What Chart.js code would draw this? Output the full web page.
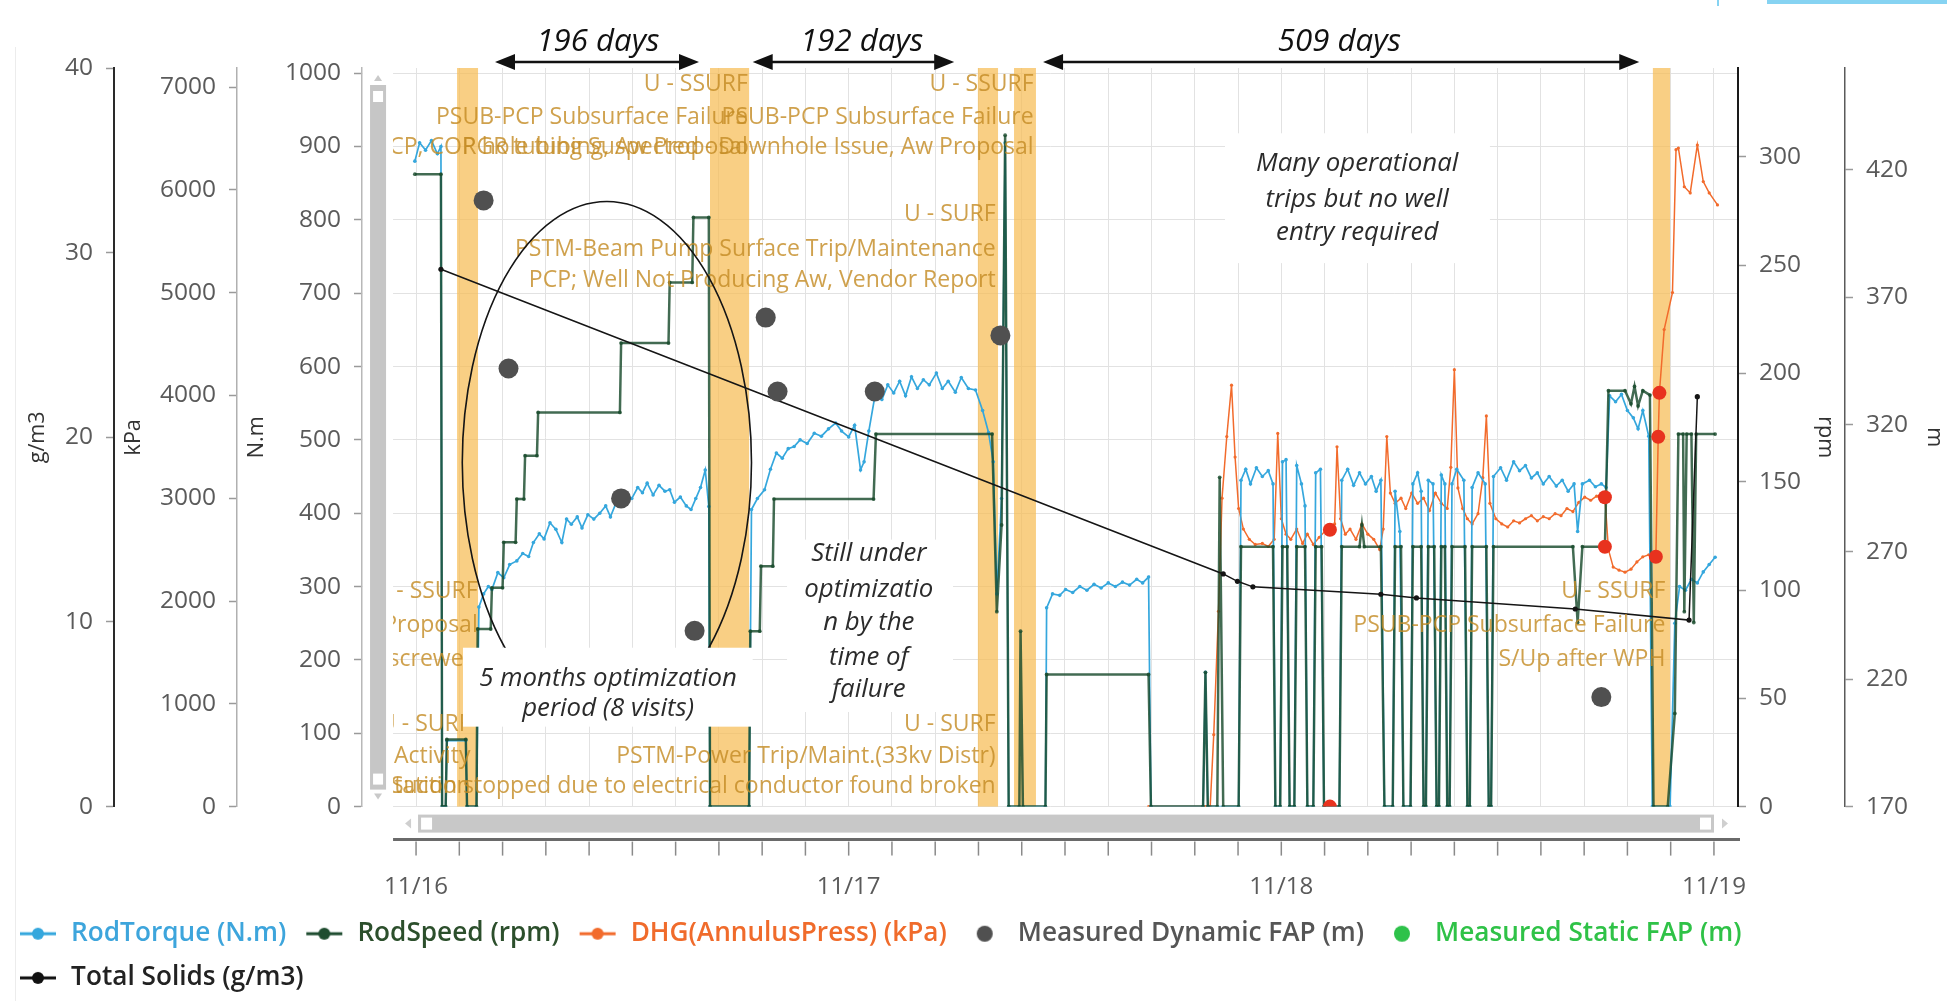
<!DOCTYPE html>
<html>
<head>
<meta charset="utf-8">
<title>Well history – rod pump</title>
<script src="https://cdn.jsdelivr.net/npm/chart.js@4.4.0/dist/chart.umd.min.js"></script>
<style>
  html, body { margin: 0; padding: 0; background: #fff; }
  #wrap { position: relative; width: 1947px; height: 1001px; }
</style>
</head>
<body>
<div id="wrap"><canvas id="chart"></canvas></div>
<script>
// =========================================================
// DATA  (x values are days counted from 1 Nov 2016)
// =========================================================
const tickLabels = ["11/16", "11/17", "11/18", "11/19"];
const nmTickValues = [0, 100, 200, 300, 400, 500, 600, 700, 800, 900, 1000];
const kpaTickValues = [0, 1000, 2000, 3000, 4000, 5000, 6000, 7000];
const solidsTickValues = [0, 10, 20, 30, 40];
const rpmTickValues = [0, 50, 100, 150, 200, 250, 300];
const mTickValues = [170, 220, 270, 320, 370, 420];

// RodTorque (N.m)
const rodTorquePoints = [
  [-1, 880], [3, 905], [8, 895], [13, 908], [18, 890], [21, 900], [22, 0], [25, 0], [26, 90], [42, 90], [43, 0], [51, 0],
  [53, 272], [57, 290], [61, 300], [64, 296], [69, 319], [74, 312], [79, 330], [85, 335], [90, 345], [95, 341], [99, 360],
  [104, 372], [108, 365], [113, 387], [118, 378], [123, 360], [127, 392], [131, 385], [136, 395], [140, 380], [145, 398],
  [150, 392], [155, 400], [160, 410], [164, 395], [169, 415], [173, 412], [178, 425], [182, 420], [187, 435], [191, 428],
  [195, 441], [200, 425], [205, 438], [210, 430], [214, 432], [218, 415], [223, 422], [228, 410], [232, 405], [236, 420],
  [240, 435], [244, 459], [247, 409], [248, 0],
  [281, 0], [283, 405], [288, 420], [294, 432], [299, 460], [304, 482], [309, 475], [314, 488], [319, 491], [324, 500],
  [330, 495], [336, 509], [342, 505], [348, 515], [354, 523], [359, 512], [365, 504], [370, 520], [375, 459], [378, 470],
  [382, 512], [388, 568], [393, 555], [398, 575], [403, 564], [408, 580], [413, 560], [418, 586], [423, 570], [428, 582],
  [433, 575], [439, 591], [444, 570], [449, 580], [455, 565], [460, 585], [466, 570], [472, 568], [478, 540], [483, 510],
  [487, 470], [490, 290], [494, 420], [497, 905], [500, 0],
  [531, 0], [532, 271], [537, 290], [543, 288], [548, 296], [554, 292], [560, 300], [566, 295], [572, 303], [578, 298],
  [584, 305], [590, 300], [596, 306], [602, 302], [608, 310], [613, 305], [618, 313], [620, 0],
  [664, 0], [666, 183], [668, 0], [694, 0], [696, 445], [700, 460], [704, 440], [709, 462], [714, 450], [719, 458],
  [723, 440], [725, 0], [729, 0], [731, 470], [734, 473], [737, 0], [741, 0], [743, 465], [747, 440], [750, 410], [752, 0],
  [757, 0], [759, 455], [763, 460], [766, 0], [779, 0], [781, 445], [786, 460], [791, 438], [796, 455], [801, 440],
  [806, 450], [810, 430], [814, 445], [817, 0], [824, 0], [826, 430], [830, 375], [833, 0], [839, 0], [841, 440],
  [845, 455], [848, 430], [850, 0], [852, 0], [854, 445], [858, 440], [861, 0], [863, 0], [865, 452], [868, 440], [870, 0],
  [872, 0], [874, 440], [878, 460], [884, 445], [887, 0], [889, 0], [891, 435], [896, 455], [902, 440], [905, 0], [907, 0],
  [909, 450], [915, 462], [920, 445], [926, 470], [931, 458], [936, 465], [941, 448], [946, 455], [951, 440], [956, 450],
  [962, 437], [967, 445], [972, 430], [977, 440], [980, 375], [984, 440], [990, 445], [995, 436], [1000, 440], [1004, 435],
  [1007, 560], [1012, 552], [1017, 562], [1022, 540], [1027, 530], [1031, 515], [1035, 540], [1040, 505], [1043, 0],
  [1058, 0], [1062, 250], [1066, 300], [1071, 295], [1076, 310], [1081, 305], [1086, 320], [1091, 330], [1096, 340]
];

// RodSpeed (rpm)
const rodSpeedPoints = [
  [-1, 292], [21, 292], [22, 0], [25, 0], [26, 31], [42, 31], [43, 0], [51, 0], [52, 82], [63, 82], [64, 101], [73, 101],
  [74, 122], [84, 122], [85, 142], [91, 142], [92, 162], [102, 162], [103, 182], [172, 182], [173, 214], [213, 214],
  [214, 242], [233, 242], [234, 272], [247, 272], [248, 0], [281, 0], [282, 81], [290, 81], [291, 111], [301, 111],
  [302, 142], [386, 142], [388, 172], [486, 172], [490, 90], [494, 130], [497, 310], [500, 0], [509, 0], [510, 81],
  [512, 0], [531, 0], [532, 61], [618, 61], [620, 0], [664, 0], [666, 62], [668, 0], [676, 0], [678, 152], [681, 0],
  [694, 0], [696, 120], [723, 120], [725, 0], [729, 0], [731, 120], [735, 120], [737, 0], [741, 0], [743, 120], [750, 120],
  [752, 0], [757, 0], [759, 120], [764, 120], [766, 0], [779, 0], [781, 120], [796, 120], [798, 130], [800, 120],
  [814, 120], [817, 0], [824, 0], [826, 120], [831, 120], [833, 0], [839, 0], [841, 120], [848, 120], [850, 0], [852, 0],
  [854, 120], [859, 120], [861, 0], [863, 0], [865, 120], [868, 120], [870, 0], [872, 0], [874, 120], [885, 120], [887, 0],
  [889, 0], [891, 120], [903, 120], [905, 0], [907, 0], [909, 120], [976, 120], [980, 85], [984, 120], [1003, 120],
  [1006, 192], [1020, 192], [1025, 186], [1028, 194], [1031, 185], [1035, 192], [1041, 190], [1044, 0], [1056, 0],
  [1062, 43], [1065, 172], [1069, 172], [1070, 90], [1072, 172], [1076, 172], [1078, 85], [1080, 172], [1096, 172]
];

// DHG (AnnulusPress) (kPa)
const annulusPressPoints = [
  [618, 0], [666, 0], [670, 0], [673, 700], [677, 1900], [680, 3000], [684, 3600], [688, 4100], [691, 3400], [694, 2900],
  [698, 2700], [703, 2600], [708, 2550], [714, 2560], [719, 2530], [724, 2600], [727, 3630], [730, 2800], [734, 2650],
  [738, 2600], [743, 2700], [748, 2560], [752, 2650], [757, 2550], [762, 2620], [767, 2680], [771, 2693], [775, 2750],
  [777, 3500], [780, 2800], [784, 2650], [788, 2700], [793, 2600], [798, 2750], [803, 2650], [808, 2600], [813, 2500],
  [816, 2700], [819, 3600], [822, 3050], [826, 2950], [831, 3000], [835, 2900], [840, 3050], [845, 2950], [850, 3000],
  [855, 2880], [860, 3050], [865, 2950], [870, 2900], [873, 3300], [876, 4250], [879, 3100], [883, 2900], [887, 2800],
  [891, 2750], [896, 2850], [900, 3200], [903, 3800], [906, 2950], [911, 2800], [916, 2750], [921, 2720], [926, 2780],
  [931, 2760], [936, 2800], [941, 2830], [946, 2780], [951, 2820], [956, 2800], [961, 2850], [966, 2830], [971, 2900],
  [976, 2870], [981, 2960], [986, 3010], [991, 2980], [996, 3020], [1003, 3010], [1006, 2500], [1010, 2330], [1015, 2300],
  [1020, 2280], [1025, 2310], [1030, 2380], [1035, 2430], [1040, 2450], [1046, 2430], [1048, 3597], [1049, 4025],
  [1053, 4640], [1060, 5000], [1063, 6390], [1065, 6407], [1070, 6030], [1075, 5970], [1081, 6436], [1086, 6080],
  [1091, 5970], [1098, 5853]
];

// Measured Dynamic FAP (m)
const dynamicFapPoints = [[57, 408], [78, 342], [173, 291], [235, 239], [295, 362], [305, 333], [387, 333], [493, 355], [1000, 213]];
// Measured Static FAP (m) – no readings in this window
const staticFapPoints = [];
// Total Solids (g/m3)
const totalSolidsPoints = [[21, 29.1], [681, 12.6], [693, 12.2], [706, 11.9], [814, 11.5], [844, 11.3], [978, 10.7], [1074, 10.1], [1081, 22.2]];

// highlighted (flagged) readings
const flaggedPressPoints = [[771, 2693], [1003, 3010], [1046, 2430], [1048, 3597], [1049, 4025]];
const flaggedSpeedPoints = [[771, 0], [1003, 120]];

// failure / well-entry periods [start day, end day]
const failureBands = [[34.6, 52.3], [248, 281], [474, 491], [504.5, 523], [1043.5, 1058]];

// =========================================================
// ANNOTATIONS (anchored in days and N.m values)
// =========================================================
const eventComments = [
  { day: 280, lines: [["U - SSURF", 984], ["PSUB-PCP Subsurface Failure", 939], ["PCP, COP hole tubing, Aw Proposal", 898]] },
  { day: 521, lines: [["U - SSURF", 984], ["PSUB-PCP Subsurface Failure", 939], ["RGR tubing Suspected - Downhole Issue, Aw Proposal", 898]] },
  { day: 489, lines: [["U - SURF", 807], ["PSTM-Beam Pump Surface Trip/Maintenance", 759], ["PCP; Well Not Producing Aw, Vendor Report", 718]] },
  { day: 489, lines: [["U - SURF", 112], ["PSTM-Power Trip/Maint.(33kv Distr)", 68], ["Station stopped due to electrical conductor found broken", 27]] },
  { day: 52, lines: [["U - SSURF", 293], ["Aw Proposal", 247], ["Rotor unscrewed", 200]] },
  { day: 46, lines: [["U - SURF", 112], ["Planned Activity", 68], ["Pump Suction", 27]] },
  { day: 1054, lines: [["U - SSURF", 293], ["PSUB-PCP Subsurface Failure", 247], ["S/Up after WPH", 200]] }
];

const callouts = [
  { from: 39.6, to: 284, top: 216.6, bottom: 109, center: 162, lines: [["5 months optimization", 174], ["period (8 visits)", 133.5]] },
  { from: 313, to: 453, top: 364, bottom: 129, center: 382, lines: [["Still under", 345], ["optimizatio", 296], ["n by the", 251], ["time of", 203], ["failure", 159]] },
  { from: 682.5, to: 906, top: 918, bottom: 741, center: 794, lines: [["Many operational", 876], ["trips but no well", 828], ["entry required", 782]] }
];

const runLengths = [
  { from: 66.6, to: 238.7, mid: 153.5, label: "196 days" },
  { from: 284, to: 454, mid: 376, label: "192 days" },
  { from: 529, to: 1032, mid: 779, label: "509 days" }
];

const optimisationRing = { day: 161, value: 469, halfDays: 122, halfValue: 356 };

// =========================================================
// SCALE LIMITS / STYLE
// =========================================================
const X_MIN_DAY = -45.6;
const X_MAX_DAY = 1115.3;
const PLOT_START_DAY = -19.4;   // gridded area starts right of the scroll bar
const GRID_STEP_DAYS = 36.5;    // ten grid divisions per year

const FONT_FAMILY = "'Open Sans', 'Noto Sans', 'DejaVu Sans', sans-serif";
const BAND_COLOR = "rgba(247, 188, 85, 0.72)";
const EVENT_TEXT_COLOR = "rgba(196, 140, 38, 0.82)";
const GRID_COLOR = "#e2e2e2";

// fit the font sizes to the widths seen in the picture
const measureCtx = document.createElement("canvas").getContext("2d");
function fitFontSize(text, targetWidth, style) {
  measureCtx.font = style + " 100px " + FONT_FAMILY;
  return Math.round((1000 * targetWidth) / measureCtx.measureText(text).width) / 10;
}
const legendSize = fitFontSize("RodTorque (N.m)", 215, "600");
const xTickSize = fitFontSize("11/16", 64, "normal");
const yTickSize = fitFontSize("1000", 56, "normal");
const titleSize = fitFontSize("g/m3", 52, "normal");
const eventSize = fitFontSize("PSUB-PCP Subsurface Failure", 312, "normal");
const noteSize = fitFontSize("5 months optimization", 258, "italic");
const runSize = fitFontSize("196 days", 123, "italic");

// =========================================================
// HELPERS
// =========================================================
function toXY(points) {
  return points.map(([x, y]) => ({ x: x, y: y }));
}

function lineIcon(color) {
  const c = document.createElement("canvas");
  c.width = 40;
  c.height = 14;
  const g = c.getContext("2d");
  g.strokeStyle = color;
  g.lineWidth = 3;
  g.beginPath();
  g.moveTo(2, 7);
  g.lineTo(38, 7);
  g.stroke();
  g.fillStyle = color;
  g.beginPath();
  g.arc(20, 7, 6, 0, Math.PI * 2);
  g.fill();
  return c;
}

function dotIcon(color) {
  const c = document.createElement("canvas");
  c.width = 40;
  c.height = 18;
  const g = c.getContext("2d");
  g.fillStyle = color;
  g.beginPath();
  g.arc(20, 9, 8, 0, Math.PI * 2);
  g.fill();
  return c;
}

function titlePad(target) {
  return Math.max(0, target - titleSize * 0.6);
}

// legend look per dataset index
const legendColors = ["#3da5dc", "#2c4f2c", "#f06b2b", "#555555", "#2fc247", "#222222"];
const legendIcons = [
  lineIcon("#35a7dd"), lineIcon("#1f4d30"), lineIcon("#f26b2c"),
  dotIcon("#505050"), dotIcon("#2ec24a"), lineIcon("#111111")
];

// =========================================================
// PLUGIN: bands, scroll bars, comments, call-outs, arrows
// =========================================================
const wellHistoryDecor = {
  id: "wellHistoryDecor",

  beforeDatasetsDraw(chart) {
    const { ctx, chartArea: area, scales: { x } } = chart;
    const plotLeft = x.getPixelForValue(PLOT_START_DAY);
    ctx.save();

    // no grid between the N.m axis and the gridded area
    ctx.fillStyle = "#fff";
    ctx.fillRect(area.left + 1, area.top - 1, plotLeft - area.left - 1, area.bottom - area.top + 2);

    ctx.fillStyle = BAND_COLOR;
    failureBands.forEach(([from, to]) => {
      const x0 = x.getPixelForValue(from);
      const x1 = x.getPixelForValue(to);
      ctx.fillRect(x0, area.top, x1 - x0, area.bottom - area.top);
    });

    // vertical scroll bar
    const sx = plotLeft - 23;
    ctx.fillStyle = "#c6c6c6";
    ctx.fillRect(sx, area.top + 17, 16, area.bottom - area.top - 34);
    ctx.fillStyle = "#fff";
    ctx.fillRect(sx + 3, area.top + 23, 10, 11);
    ctx.fillRect(sx + 3, area.bottom - 33, 10, 11);
    ctx.fillStyle = "#c9c9c9";
    ctx.beginPath();
    ctx.moveTo(sx + 4, area.top + 13);
    ctx.lineTo(sx + 12, area.top + 13);
    ctx.lineTo(sx + 8, area.top + 7);
    ctx.fill();
    ctx.beginPath();
    ctx.moveTo(sx + 4, area.bottom - 13);
    ctx.lineTo(sx + 12, area.bottom - 13);
    ctx.lineTo(sx + 8, area.bottom - 7);
    ctx.fill();
    ctx.restore();
  },

  afterDatasetsDraw(chart) {
    const { ctx, chartArea: area, scales: { x, yNm } } = chart;
    const plotLeft = x.getPixelForValue(PLOT_START_DAY);
    ctx.save();
    ctx.beginPath();
    ctx.rect(plotLeft, area.top, area.right - plotLeft, area.bottom - area.top);
    ctx.clip();

    // event comments, right-aligned on the end of each well entry
    ctx.font = eventSize + "px " + FONT_FAMILY;
    ctx.fillStyle = EVENT_TEXT_COLOR;
    ctx.textAlign = "right";
    ctx.textBaseline = "middle";
    eventComments.forEach((ev) => {
      const px = x.getPixelForValue(ev.day);
      ev.lines.forEach(([text, at]) => ctx.fillText(text, px, yNm.getPixelForValue(at)));
    });

    // ring round the optimisation period
    const cx = x.getPixelForValue(optimisationRing.day);
    const cy = yNm.getPixelForValue(optimisationRing.value);
    const rx = x.getPixelForValue(optimisationRing.day + optimisationRing.halfDays) - cx;
    const ry = cy - yNm.getPixelForValue(optimisationRing.value + optimisationRing.halfValue);
    ctx.strokeStyle = "#151515";
    ctx.lineWidth = 1.6;
    ctx.beginPath();
    ctx.ellipse(cx, cy, rx, ry, 0, 0, Math.PI * 2);
    ctx.stroke();

    // white call-out boxes
    ctx.font = "italic " + noteSize + "px " + FONT_FAMILY;
    ctx.textAlign = "center";
    callouts.forEach((c) => {
      const x0 = x.getPixelForValue(c.from);
      const x1 = x.getPixelForValue(c.to);
      const y0 = yNm.getPixelForValue(c.top);
      const y1 = yNm.getPixelForValue(c.bottom);
      ctx.fillStyle = "#fff";
      ctx.fillRect(x0, y0, x1 - x0, y1 - y0);
      ctx.fillStyle = "#2b2b2b";
      c.lines.forEach(([text, at]) => ctx.fillText(text, x.getPixelForValue(c.center), yNm.getPixelForValue(at)));
    });
    ctx.restore();
  },

  afterDraw(chart) {
    const { ctx, chartArea: area, scales: { x } } = chart;
    const plotLeft = x.getPixelForValue(PLOT_START_DAY);
    ctx.save();

    // run-length arrows above the plot
    ctx.strokeStyle = "#111";
    ctx.fillStyle = "#111";
    ctx.lineWidth = 2.5;
    ctx.font = "italic " + runSize + "px " + FONT_FAMILY;
    ctx.textAlign = "center";
    ctx.textBaseline = "middle";
    runLengths.forEach((r) => {
      const x0 = x.getPixelForValue(r.from);
      const x1 = x.getPixelForValue(r.to);
      const y = area.top - 6;
      ctx.beginPath();
      ctx.moveTo(x0 + 10, y);
      ctx.lineTo(x1 - 10, y);
      ctx.stroke();
      ctx.beginPath();
      ctx.moveTo(x0, y);
      ctx.lineTo(x0 + 20, y - 8);
      ctx.lineTo(x0 + 20, y + 8);
      ctx.fill();
      ctx.beginPath();
      ctx.moveTo(x1, y);
      ctx.lineTo(x1 - 20, y - 8);
      ctx.lineTo(x1 - 20, y + 8);
      ctx.fill();
      ctx.fillText(r.label, x.getPixelForValue(r.mid), area.top - 26);
    });

    // horizontal scroll bar
    const sy = area.bottom + 8;
    ctx.fillStyle = "#c8c8c8";
    ctx.fillRect(plotLeft + 25, sy, area.right - 24 - (plotLeft + 25), 18);
    ctx.fillStyle = "#fff";
    ctx.fillRect(plotLeft + 28, sy + 3, 11, 12);
    ctx.fillRect(area.right - 38, sy + 3, 11, 12);
    ctx.fillStyle = "#cfcfcf";
    ctx.beginPath();
    ctx.moveTo(plotLeft + 18, sy + 4);
    ctx.lineTo(plotLeft + 18, sy + 14);
    ctx.lineTo(plotLeft + 12, sy + 9);
    ctx.fill();
    ctx.beginPath();
    ctx.moveTo(area.right - 16, sy + 4);
    ctx.lineTo(area.right - 16, sy + 14);
    ctx.lineTo(area.right - 10, sy + 9);
    ctx.fill();

    // date axis line with its tick marks
    const ay = area.bottom + 33;
    ctx.strokeStyle = "#6a6a6a";
    ctx.lineWidth = 3;
    ctx.beginPath();
    ctx.moveTo(plotLeft, ay);
    ctx.lineTo(area.right + 2, ay);
    ctx.stroke();
    ctx.strokeStyle = "#8a8a8a";
    ctx.lineWidth = 1.5;
    x.ticks.forEach((t) => {
      const px = x.getPixelForValue(t.value);
      ctx.beginPath();
      ctx.moveTo(px, ay + 2);
      ctx.lineTo(px, ay + 16);
      ctx.stroke();
    });

    // panel edges of the screenshot
    ctx.strokeStyle = "#ececec";
    ctx.lineWidth = 1;
    ctx.beginPath();
    ctx.moveTo(15.5, 47);
    ctx.lineTo(15.5, chart.height);
    ctx.stroke();
    ctx.fillStyle = "#86d3f2";
    ctx.fillRect(1767, 0, chart.width - 1767, 4);
    ctx.fillRect(1717, 0, 2, 6);
    ctx.restore();
  }
};

// =========================================================
// CHART
// =========================================================
Chart.defaults.font.family = FONT_FAMILY;

function lineSet(label, points, axis, color, width, radius, order) {
  return {
    label: label,
    data: toXY(points),
    yAxisID: axis,
    borderColor: color,
    backgroundColor: color,
    borderWidth: width,
    pointRadius: radius,
    pointBorderWidth: 0,
    pointBackgroundColor: color,
    tension: 0,
    order: order
  };
}

function dotSet(label, points, axis, color, radius, order) {
  return {
    label: label,
    data: toXY(points),
    yAxisID: axis,
    showLine: false,
    borderColor: color,
    backgroundColor: color,
    pointRadius: radius,
    pointBorderWidth: 0,
    pointBackgroundColor: color,
    order: order
  };
}

function sideAxis(position, weight, min, max, tickValues, title, titleTarget, width, borderColor, borderWidth) {
  return {
    type: "linear",
    position: position,
    weight: weight,
    min: min,
    max: max,
    afterBuildTicks(scale) {
      scale.ticks = tickValues.map((v) => ({ value: v }));
    },
    ticks: {
      padding: 13,
      color: "#5a5a5a",
      font: { size: yTickSize },
      callback: (value) => String(value)
    },
    grid: {
      display: true,
      drawOnChartArea: false,
      drawTicks: true,
      tickLength: 8,
      tickColor: "#9a9a9a",
      tickWidth: 1.5
    },
    border: { display: true, color: borderColor, width: borderWidth },
    title: {
      display: true,
      text: title,
      color: "#333",
      font: { size: titleSize, lineHeight: 1.2 },
      padding: { top: titlePad(titleTarget), bottom: 0 }
    },
    afterFit(scale) {
      scale.width = width;
    }
  };
}

const nmAxis = sideAxis("left", 0, 0, 1007, nmTickValues, "N.m", 20, 125, "#b8b8b8", 1.5);
nmAxis.grid.drawOnChartArea = true;
nmAxis.grid.color = GRID_COLOR;

const chart = new Chart(document.getElementById("chart"), {
  type: "line",
  data: {
    datasets: [
      lineSet("RodTorque (N.m)", rodTorquePoints, "yNm", "#35a7dd", 1.7, 1.8, 4),
      lineSet("RodSpeed (rpm)", rodSpeedPoints, "yRpm", "rgba(24, 74, 44, 0.82)", 2.5, 1.9, 3),
      lineSet("DHG(AnnulusPress) (kPa)", annulusPressPoints, "yKpa", "#f26b2c", 1.5, 1.6, 5),
      dotSet("Measured Dynamic FAP (m)", dynamicFapPoints, "yM", "#505050", 10, 1),
      dotSet("Measured Static FAP (m)", staticFapPoints, "yM", "#2ec24a", 8, 1),
      lineSet("Total Solids (g/m3)", totalSolidsPoints, "ySol", "#151515", 1.5, 2.6, 2),
      dotSet("", flaggedPressPoints, "yKpa", "#e8321e", 7, 0),
      dotSet("", flaggedSpeedPoints, "yRpm", "#e8321e", 7, 0)
    ]
  },
  options: {
    responsive: true,
    maintainAspectRatio: false,
    devicePixelRatio: 1,
    animation: false,
    layout: { padding: { top: 68, left: 0, right: 0, bottom: 0 } },
    scales: {
      x: {
        type: "linear",
        min: X_MIN_DAY,
        max: X_MAX_DAY,
        afterBuildTicks(scale) {
          scale.ticks = Array.from({ length: 31 }, (_, k) => ({ value: k * GRID_STEP_DAYS }));
        },
        afterFit(scale) {
          scale.height = 96;
        },
        ticks: {
          autoSkip: false,
          maxRotation: 0,
          padding: 66,
          color: "#5a5a5a",
          font: { size: xTickSize },
          callback: (value, index) => (index % 10 === 0 ? tickLabels[index / 10] : "")
        },
        grid: { color: GRID_COLOR, drawTicks: false },
        border: { display: false }
      },
      yNm: nmAxis,
      yKpa: sideAxis("left", 1, 0, 7185, kpaTickValues, "kPa", 20, 123, "#b0b0b0", 1.5),
      ySol: sideAxis("left", 2, 0, 40, solidsTickValues, "g/m3", 38, 114, "#2a2a2a", 2),
      yRpm: sideAxis("right", 0, 0, 341, rpmTickValues, "rpm", 20, 107, "#1a1a1a", 2),
      yM: sideAxis("right", 1, 170, 460, mTickValues, "m", 10, 102, "#5a5a5a", 1.5)
    },
    plugins: {
      tooltip: { enabled: false },
      legend: {
        position: "bottom",
        align: "start",
        labels: {
          usePointStyle: true,
          pointStyleWidth: 40,
          padding: 18,
          font: { size: legendSize, weight: "600" },
          generateLabels(chart) {
            return chart.data.datasets
              .map((ds, i) => ({
                text: ds.label,
                fontColor: legendColors[i],
                pointStyle: legendIcons[i],
                fillStyle: ds.borderColor,
                strokeStyle: ds.borderColor,
                lineWidth: 0,
                hidden: !chart.isDatasetVisible(i),
                datasetIndex: i
              }))
              .filter((item) => item.text);
          }
        }
      }
    }
  },
  plugins: [wellHistoryDecor]
});
</script>
</body>
</html>
